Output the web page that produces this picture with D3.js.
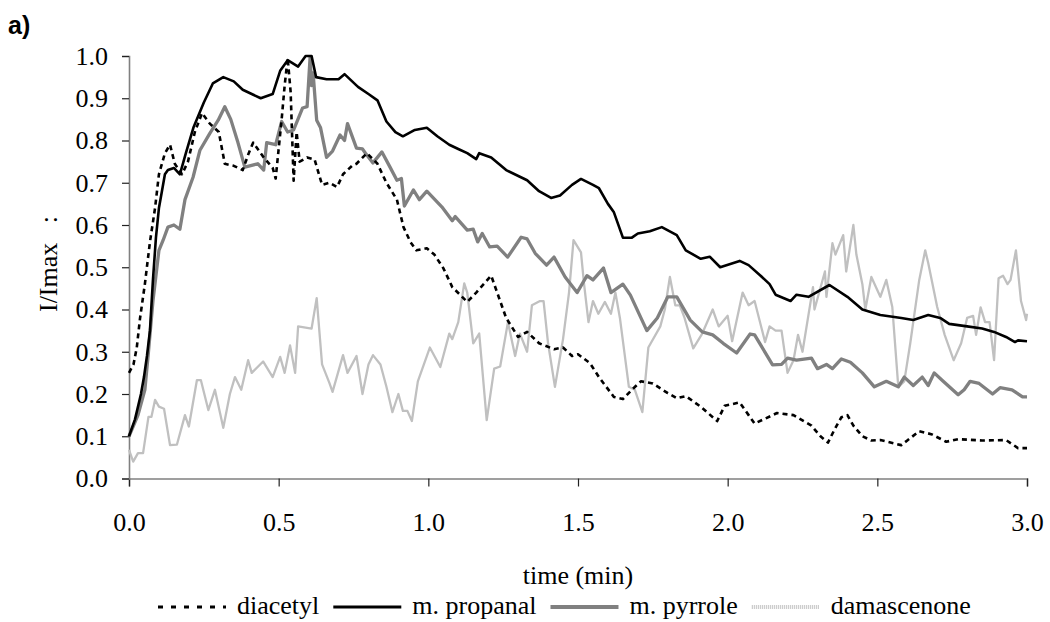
<!DOCTYPE html>
<html>
<head>
<meta charset="utf-8">
<script src="https://cdnjs.cloudflare.com/ajax/libs/d3/7.8.5/d3.min.js"></script>
<style>
  body { margin: 0; background: #fff; }
  text { font-family: "Liberation Serif", "Times New Roman", serif; }
</style>
</head>
<body>
<script>
// time (min) / relative intensity for each trace
var diacetylT = [0, 0.015, 0.026, 0.037, 0.053, 0.07, 0.087, 0.10, 0.12, 0.137, 0.153, 0.177, 0.197, 0.22, 0.244, 0.27, 0.30, 0.32, 0.35, 0.38, 0.40, 0.415, 0.45, 0.48, 0.49, 0.51, 0.52, 0.53, 0.54, 0.55, 0.56, 0.57, 0.595, 0.62, 0.645, 0.67, 0.695, 0.715, 0.745, 0.76, 0.795, 0.83, 0.86, 0.895, 0.917, 0.94, 0.96, 0.995, 1.02, 1.05, 1.08, 1.13, 1.16, 1.21, 1.23, 1.26, 1.30, 1.33, 1.37, 1.42, 1.45, 1.48, 1.50, 1.54, 1.57, 1.62, 1.65, 1.68, 1.71, 1.75, 1.80, 1.83, 1.86, 1.91, 1.965, 1.99, 2.04, 2.07, 2.09, 2.165, 2.22, 2.28, 2.31, 2.335, 2.36, 2.38, 2.40, 2.42, 2.45, 2.48, 2.51, 2.58, 2.60, 2.64, 2.68, 2.73, 2.77, 2.85, 2.93, 2.97, 3.0]
  , diacetylV = [0.25, 0.27, 0.31, 0.38, 0.46, 0.56, 0.64, 0.72, 0.77, 0.79, 0.745, 0.72, 0.75, 0.82, 0.865, 0.84, 0.82, 0.745, 0.74, 0.73, 0.77, 0.795, 0.76, 0.735, 0.71, 0.85, 0.93, 0.995, 0.915, 0.705, 0.82, 0.75, 0.76, 0.755, 0.695, 0.70, 0.69, 0.72, 0.74, 0.745, 0.77, 0.745, 0.70, 0.66, 0.595, 0.56, 0.54, 0.545, 0.53, 0.498, 0.453, 0.418, 0.44, 0.48, 0.44, 0.38, 0.335, 0.347, 0.32, 0.306, 0.31, 0.29, 0.294, 0.273, 0.24, 0.193, 0.188, 0.21, 0.23, 0.225, 0.202, 0.19, 0.195, 0.17, 0.136, 0.172, 0.18, 0.15, 0.13, 0.155, 0.15, 0.125, 0.10, 0.085, 0.12, 0.145, 0.15, 0.125, 0.10, 0.09, 0.091, 0.079, 0.09, 0.112, 0.105, 0.087, 0.093, 0.09, 0.091, 0.072, 0.072]
  ;

var propanalT = [0, 0.02, 0.04, 0.05, 0.06, 0.07, 0.08, 0.09, 0.10, 0.11, 0.12, 0.13, 0.15, 0.17, 0.19, 0.215, 0.25, 0.28, 0.315, 0.35, 0.38, 0.41, 0.44, 0.48, 0.505, 0.53, 0.565, 0.59, 0.61, 0.625, 0.66, 0.70, 0.72, 0.765, 0.80, 0.83, 0.86, 0.89, 0.915, 0.955, 0.995, 1.03, 1.07, 1.10, 1.13, 1.16, 1.17, 1.21, 1.26, 1.33, 1.37, 1.41, 1.44, 1.48, 1.51, 1.55, 1.57, 1.60, 1.62, 1.65, 1.68, 1.70, 1.74, 1.78, 1.83, 1.86, 1.91, 1.94, 1.975, 2.04, 2.07, 2.11, 2.14, 2.16, 2.21, 2.23, 2.27, 2.34, 2.40, 2.45, 2.51, 2.58, 2.62, 2.67, 2.71, 2.74, 2.80, 2.85, 2.89, 2.93, 2.96, 2.97, 3.0]
  , propanalV = [0.10, 0.14, 0.20, 0.24, 0.29, 0.35, 0.47, 0.57, 0.64, 0.68, 0.72, 0.73, 0.735, 0.72, 0.77, 0.83, 0.89, 0.935, 0.95, 0.94, 0.92, 0.91, 0.90, 0.91, 0.965, 0.99, 0.975, 1.0, 1.0, 0.95, 0.945, 0.945, 0.957, 0.927, 0.91, 0.895, 0.845, 0.82, 0.81, 0.825, 0.83, 0.81, 0.79, 0.78, 0.77, 0.756, 0.77, 0.76, 0.73, 0.706, 0.68, 0.664, 0.67, 0.695, 0.709, 0.695, 0.687, 0.65, 0.63, 0.57, 0.57, 0.58, 0.585, 0.595, 0.576, 0.54, 0.52, 0.525, 0.50, 0.515, 0.505, 0.48, 0.46, 0.435, 0.42, 0.435, 0.43, 0.458, 0.43, 0.40, 0.387, 0.38, 0.375, 0.387, 0.38, 0.366, 0.36, 0.355, 0.347, 0.335, 0.323, 0.327, 0.325]
  ;

var pyrroleT = [0, 0.03, 0.053, 0.065, 0.08, 0.10, 0.114, 0.13, 0.15, 0.17, 0.187, 0.214, 0.237, 0.27, 0.298, 0.32, 0.34, 0.364, 0.387, 0.43, 0.45, 0.46, 0.49, 0.51, 0.53, 0.55, 0.58, 0.595, 0.605, 0.61, 0.615, 0.627, 0.64, 0.66, 0.68, 0.705, 0.72, 0.73, 0.76, 0.78, 0.79, 0.815, 0.845, 0.872, 0.895, 0.91, 0.92, 0.95, 0.97, 0.995, 1.045, 1.08, 1.09, 1.13, 1.15, 1.165, 1.18, 1.205, 1.23, 1.265, 1.31, 1.33, 1.357, 1.395, 1.42, 1.457, 1.497, 1.53, 1.55, 1.585, 1.61, 1.65, 1.675, 1.73, 1.765, 1.80, 1.83, 1.875, 1.915, 1.95, 1.985, 2.03, 2.075, 2.09, 2.15, 2.18, 2.20, 2.23, 2.28, 2.30, 2.33, 2.35, 2.38, 2.41, 2.45, 2.49, 2.53, 2.57, 2.59, 2.62, 2.65, 2.67, 2.69, 2.72, 2.77, 2.79, 2.81, 2.84, 2.885, 2.91, 2.95, 2.985, 3.0]
  , pyrroleV = [0.10, 0.15, 0.21, 0.30, 0.42, 0.54, 0.564, 0.595, 0.60, 0.59, 0.66, 0.713, 0.777, 0.817, 0.848, 0.88, 0.85, 0.795, 0.737, 0.745, 0.73, 0.795, 0.79, 0.845, 0.82, 0.825, 0.877, 0.88, 0.997, 0.93, 0.96, 0.848, 0.83, 0.76, 0.775, 0.813, 0.80, 0.84, 0.782, 0.78, 0.77, 0.747, 0.773, 0.737, 0.706, 0.71, 0.645, 0.683, 0.66, 0.68, 0.643, 0.61, 0.62, 0.588, 0.59, 0.56, 0.58, 0.548, 0.55, 0.524, 0.571, 0.567, 0.533, 0.505, 0.524, 0.477, 0.44, 0.48, 0.47, 0.498, 0.44, 0.46, 0.434, 0.35, 0.38, 0.43, 0.43, 0.375, 0.347, 0.34, 0.32, 0.297, 0.342, 0.34, 0.269, 0.27, 0.285, 0.28, 0.285, 0.26, 0.27, 0.26, 0.283, 0.275, 0.25, 0.217, 0.23, 0.217, 0.24, 0.22, 0.24, 0.22, 0.25, 0.23, 0.198, 0.21, 0.23, 0.225, 0.20, 0.215, 0.21, 0.193, 0.193]
  ;

var damascT = [0, 0.014, 0.03, 0.047, 0.065, 0.075, 0.087, 0.10, 0.117, 0.137, 0.16, 0.187, 0.20, 0.227, 0.24, 0.265, 0.287, 0.315, 0.337, 0.354, 0.375, 0.398, 0.41, 0.448, 0.48, 0.505, 0.52, 0.538, 0.555, 0.565, 0.61, 0.627, 0.645, 0.67, 0.68, 0.715, 0.73, 0.76, 0.78, 0.80, 0.815, 0.84, 0.86, 0.88, 0.90, 0.915, 0.93, 0.945, 0.965, 1.005, 1.04, 1.07, 1.08, 1.10, 1.12, 1.13, 1.15, 1.17, 1.195, 1.22, 1.24, 1.266, 1.29, 1.306, 1.33, 1.346, 1.373, 1.385, 1.40, 1.423, 1.45, 1.47, 1.485, 1.51, 1.52, 1.535, 1.55, 1.568, 1.59, 1.61, 1.625, 1.64, 1.67, 1.69, 1.715, 1.735, 1.775, 1.79, 1.807, 1.825, 1.84, 1.856, 1.885, 1.915, 1.95, 1.97, 2.0, 2.015, 2.05, 2.07, 2.09, 2.125, 2.14, 2.16, 2.18, 2.20, 2.22, 2.235, 2.25, 2.285, 2.29, 2.325, 2.33, 2.35, 2.36, 2.386, 2.396, 2.42, 2.43, 2.45, 2.46, 2.48, 2.51, 2.53, 2.55, 2.57, 2.59, 2.61, 2.64, 2.66, 2.67, 2.70, 2.725, 2.755, 2.78, 2.80, 2.82, 2.83, 2.845, 2.86, 2.875, 2.89, 2.905, 2.92, 2.935, 2.945, 2.963, 2.98, 2.997, 3.0]
  , damascV = [0.068, 0.04, 0.06, 0.06, 0.146, 0.146, 0.186, 0.17, 0.165, 0.079, 0.08, 0.15, 0.123, 0.233, 0.233, 0.162, 0.21, 0.12, 0.20, 0.24, 0.21, 0.28, 0.25, 0.277, 0.24, 0.288, 0.25, 0.315, 0.25, 0.36, 0.355, 0.427, 0.27, 0.225, 0.205, 0.292, 0.25, 0.29, 0.2, 0.27, 0.292, 0.27, 0.217, 0.157, 0.2, 0.16, 0.16, 0.136, 0.23, 0.31, 0.264, 0.343, 0.33, 0.37, 0.462, 0.44, 0.32, 0.343, 0.138, 0.26, 0.265, 0.37, 0.29, 0.343, 0.30, 0.41, 0.42, 0.42, 0.32, 0.217, 0.33, 0.44, 0.564, 0.535, 0.462, 0.37, 0.42, 0.39, 0.418, 0.39, 0.44, 0.38, 0.217, 0.21, 0.157, 0.31, 0.36, 0.40, 0.477, 0.41, 0.41, 0.38, 0.308, 0.343, 0.40, 0.36, 0.385, 0.325, 0.44, 0.41, 0.42, 0.323, 0.36, 0.35, 0.35, 0.25, 0.28, 0.34, 0.30, 0.453, 0.40, 0.49, 0.43, 0.557, 0.53, 0.576, 0.49, 0.60, 0.53, 0.46, 0.40, 0.477, 0.43, 0.47, 0.406, 0.217, 0.23, 0.32, 0.47, 0.54, 0.51, 0.406, 0.34, 0.28, 0.32, 0.38, 0.385, 0.34, 0.405, 0.37, 0.37, 0.28, 0.474, 0.48, 0.46, 0.47, 0.54, 0.42, 0.375, 0.39]
  ;

var seriesNames = ["diacetyl", "m. propanal", "m. pyrrole", "damascenone"]
  , xTicks = [0, 0.5, 1.0, 1.5, 2.0, 2.5, 3.0]
  , yTicks = [0, 0.1, 0.2, 0.3, 0.4, 0.5, 0.6, 0.7, 0.8, 0.9, 1.0]
  ;

var width = 1050
  , height = 622
  , plotLeft = 129
  , plotRight = 1027
  , plotTop = 56
  , plotBottom = 478.5
  ;

var styles = [
    { color: "#000", width: 2.6, dash: "5,4", legendDash: "5,8" },
    { color: "#000", width: 2.6, dash: null, legendDash: null },
    { color: "#808080", width: 3.3, dash: null, legendDash: null },
    { color: "#c0c0c0", width: 2.3, dash: null, legendDash: "1,1" }
];

function zip (ts, vs) {
    return ts.map(function (t, i) { return [t, vs[i]]; });
}

var series = [
    zip(diacetylT, diacetylV),
    zip(propanalT, propanalV),
    zip(pyrroleT, pyrroleV),
    zip(damascT, damascV)
];

var svg = d3.select("body").append("svg").attr("width", width).attr("height", height);

var x = d3.scaleLinear().domain([0, 3]).range([plotLeft, plotRight])
  , y = d3.scaleLinear().domain([0, 1]).range([plotBottom, plotTop])
  ;

// axes
var xAxis = svg.append("g")
    .attr("transform", "translate(0," + plotBottom + ")")
    .call(d3.axisBottom(x).tickValues(xTicks).tickFormat(d3.format(".1f")).tickSize(8).tickPadding(26));

var yAxis = svg.append("g")
    .attr("transform", "translate(" + plotLeft + ",0)")
    .call(d3.axisLeft(y).tickValues(yTicks).tickFormat(d3.format(".1f")).tickSize(7).tickPadding(14));

[xAxis, yAxis].forEach(function (g) {
    g.select(".domain").attr("stroke", "#808080").attr("stroke-width", 1.6);
    g.selectAll(".tick line").attr("stroke", "#222").attr("stroke-width", 1.2);
    g.selectAll(".tick text")
        .attr("fill", "#000")
        .style("font-family", "'Liberation Serif', serif")
        .style("font-size", "26px");
});

// lines, drawn back to front so diacetyl ends on top
var line = d3.line()
    .x(function (d) { return x(d[0]); })
    .y(function (d) { return y(d[1]); });

series.slice().reverse().forEach(function (data, k) {
    var s = styles[series.length - 1 - k];
    svg.append("path")
        .datum(data)
        .attr("fill", "none")
        .attr("stroke", s.color)
        .attr("stroke-width", s.width)
        .attr("stroke-linejoin", "round")
        .attr("stroke-dasharray", s.dash)
        .attr("d", line);
});

// labels
svg.append("text")
    .attr("x", 8).attr("y", 34)
    .style("font-family", "'Liberation Sans', Arial, sans-serif")
    .style("font-weight", "bold")
    .style("font-size", "25px")
    .text("a)");

svg.append("text")
    .attr("transform", "translate(57,264) rotate(-90)")
    .attr("text-anchor", "middle")
    .style("font-size", "26px")
    .style("white-space", "pre")
    .text("I/Imax   :");

svg.append("text")
    .attr("x", (plotLeft + plotRight) / 2).attr("y", 584)
    .attr("text-anchor", "middle")
    .style("font-size", "26px")
    .text("time (min)");

// legend
var legend = svg.append("g")
  , lx = 158
  , ly = 614
  ;

seriesNames.forEach(function (name, i) {
    var s = styles[i];
    legend.append("line")
        .attr("x1", lx).attr("x2", lx + 68)
        .attr("y1", ly - 7).attr("y2", ly - 7)
        .attr("stroke", s.color)
        .attr("stroke-width", i < 2 ? 3 : 4)
        .attr("stroke-dasharray", s.legendDash);
    lx += 68 + 11;
    var t = legend.append("text")
        .attr("x", lx).attr("y", ly)
        .style("font-size", "26px")
        .text(name);
    lx += t.node().getComputedTextLength() + 14;
});
</script>
</body>
</html>
